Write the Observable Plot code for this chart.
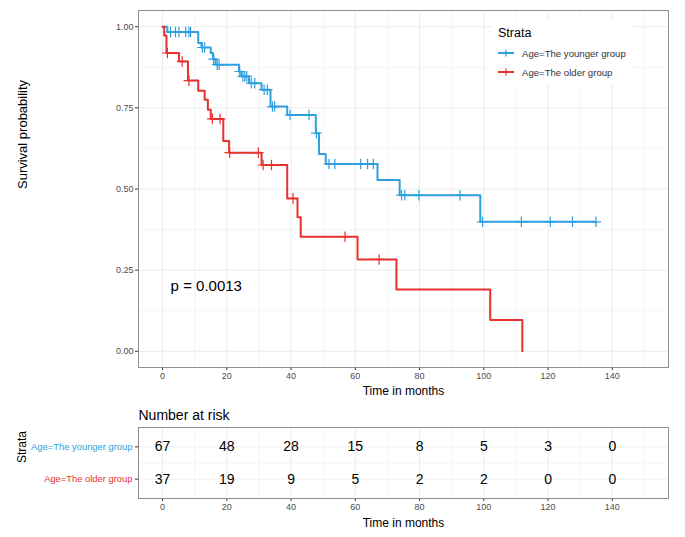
<!DOCTYPE html>
<html><head><meta charset="utf-8">
<script src="https://cdn.jsdelivr.net/npm/d3@7"></script>
<script src="https://cdn.jsdelivr.net/npm/@observablehq/plot@0.6"></script>
<style>
body{margin:0;background:#fff;font-family:"Liberation Sans",Arial,sans-serif;}
#wrap{position:relative;width:685px;height:537px;overflow:hidden;}
#main{position:absolute;left:0;top:0;}
#table{position:absolute;left:0;top:400px;}
#legend{position:absolute;left:492px;top:20px;width:139px;height:65px;background:#fff;}
#legend .ttl{position:absolute;left:6px;top:6px;font-size:12.5px;color:#000;}
#legend .item{position:absolute;left:6px;font-size:9.6px;color:#333;display:flex;align-items:center;height:14px;}
#legend .item svg{margin-right:8px;}
</style></head><body><div id="wrap"><div id="main"></div><div id="table"></div><div id="legend"></div></div>
<script>
const groups = ["Age=The younger group", "Age=The older group"];
const colors = ["#2E9FDF", "#E8312F"];

// Kaplan-Meier steps (time in months, survival after the step)
const youngTime = [0, 1.5, 11.1, 12.1, 15.0, 15.7, 16.5, 23.8, 24.5, 26.9, 30.8, 33.6, 38.8, 47.7, 48.7, 50.8, 66.9, 73.8, 98.9, 134.9];
const youngSurv = [1, 0.984, 0.950, 0.936, 0.919, 0.900, 0.883, 0.862, 0.847, 0.826, 0.806, 0.754, 0.728, 0.672, 0.608, 0.577, 0.528, 0.481, 0.399, 0.399];
const youngCensor = [2.5, 4.0, 5.1, 7.2, 8.2, 8.7, 12.4, 13.1, 15.9, 17.0, 17.6, 24.0, 25.0, 25.6, 26.2, 27.6, 28.7, 31.6, 32.6, 34.2, 34.9, 39.7, 45.6, 47.9, 51.8, 53.6, 61.7, 63.8, 65.6, 74.4, 75.4, 79.8, 92.6, 99.6, 111.7, 120.7, 127.6, 134.9];

const oldTime = [0, 0.5, 1.2, 5.1, 7.9, 11.1, 13.1, 14.1, 15.0, 18.9, 20.7, 30.8, 38.8, 42.0, 43.0, 60.7, 72.8, 102.0, 112.0];
const oldSurv = [1, 0.973, 0.919, 0.893, 0.834, 0.803, 0.775, 0.744, 0.716, 0.648, 0.612, 0.574, 0.471, 0.413, 0.353, 0.283, 0.190, 0.096, 0.0];
const oldCensor = [1.5, 6.1, 8.2, 15.5, 17.9, 20.9, 29.8, 31.3, 33.9, 40.6, 56.8, 67.4];

const xTicks = [0, 20, 40, 60, 80, 100, 120, 140];
const xMinor = [10, 30, 50, 70, 90, 110, 130, 150];
const yTicks = [0, 0.25, 0.5, 0.75, 1];
const yMinor = [0.125, 0.375, 0.625, 0.875];

const riskYoung = [67, 48, 28, 15, 8, 5, 3, 0];
const riskOld = [37, 19, 9, 5, 2, 2, 0, 0];

const pLabel = "p = 0.0013";
const xTitle = "Time in months";
const yTitle = "Survival probability";
const tableTitle = "Number at risk";
const legendTitle = "Strata";

const FONT = '"Liberation Sans", Arial, sans-serif';
const times = [youngTime, oldTime], survs = [youngSurv, oldSurv], cens = [youngCensor, oldCensor];

function survAt(ti, si, t) {
  let s = si[0];
  for (let k = 0; k < ti.length; k++) if (ti[k] <= t) s = si[k];
  return s;
}

const stepRows = [];
const censorRows = [];
groups.forEach((g, i) => {
  times[i].forEach((t, j) => stepRows.push({group: g, time: t, surv: survs[i][j]}));
  cens[i].forEach(t => censorRows.push({group: g, time: t, surv: survAt(times[i], survs[i], t)}));
});

const main = Plot.plot({
  width: 685, height: 400,
  marginLeft: 138, marginRight: 17, marginTop: 10, marginBottom: 33,
  x: {domain: [-7.5, 157.5]},
  y: {domain: [-0.05, 1.05]},
  color: {domain: groups, range: colors},
  style: {fontFamily: FONT, background: "transparent", overflow: "visible"},
  marks: [
    Plot.gridX(xMinor, {stroke: "#ebebeb", strokeOpacity: 1, strokeWidth: 0.5}),
    Plot.gridY(yMinor, {stroke: "#ebebeb", strokeOpacity: 1, strokeWidth: 0.5}),
    Plot.gridX(xTicks, {stroke: "#ebebeb", strokeOpacity: 1, strokeWidth: 1}),
    Plot.gridY(yTicks, {stroke: "#ebebeb", strokeOpacity: 1, strokeWidth: 1}),
    Plot.axisX(xTicks, {tickSize: 3, tickPadding: 2, fontSize: 9, fill: "#4d4d4d", stroke: "#333", label: null}),
    Plot.axisY(yTicks, {tickSize: 3, tickPadding: 2, fontSize: 9, fill: "#4d4d4d", stroke: "#333", tickFormat: d => d.toFixed(2), label: null}),
    Plot.line(stepRows, {x: "time", y: "surv", z: "group", stroke: "group", curve: "step-after", strokeWidth: 2}),
    Plot.dot(censorRows, {x: "time", y: "surv", stroke: "group", symbol: "plus", r: 3.5, strokeWidth: 1.2}),
    Plot.text([pLabel], {x: 2.5, y: 0.2, text: d => d, textAnchor: "start", fontSize: 15, fill: "#000"}),
    Plot.text([xTitle], {frameAnchor: "bottom", lineAnchor: "middle", dy: 24, text: d => d, fontSize: 12, fill: "#000"}),
    Plot.text([yTitle], {frameAnchor: "left", lineAnchor: "middle", dx: -116, rotate: -90, text: d => d, fontSize: 13, fill: "#000"}),
    Plot.frame({stroke: "#8f8f8f", strokeWidth: 1})
  ]
});
document.getElementById("main").appendChild(main);

// legend
const leg = document.getElementById("legend");
leg.innerHTML = `<div class="ttl">${legendTitle}</div>` + groups.map((g, i) =>
  `<div class="item" style="top:${26 + i * 19}px"><svg width="16" height="10"><line x1="0" y1="5" x2="16" y2="5" stroke="${colors[i]}" stroke-width="2"/><line x1="8" y1="1.5" x2="8" y2="8.5" stroke="${colors[i]}" stroke-width="1.2"/></svg>${g}</div>`
).join("");

// risk table
const riskRows = [];
[riskYoung, riskOld].forEach((arr, i) => arr.forEach((n, j) => riskRows.push({group: groups[i], row: 2 - i, time: xTicks[j], n})));

const table = Plot.plot({
  width: 685, height: 137,
  marginLeft: 138, marginRight: 17, marginTop: 27, marginBottom: 39,
  x: {domain: [-7.5, 157.5]},
  y: {domain: [0.4, 2.6]},
  color: {domain: groups, range: colors},
  style: {fontFamily: FONT, background: "transparent", overflow: "visible"},
  marks: [
    Plot.gridX(xMinor, {stroke: "#ebebeb", strokeOpacity: 1, strokeWidth: 0.5}),
    Plot.gridY([1.5], {stroke: "#ebebeb", strokeOpacity: 1, strokeWidth: 0.5}),
    Plot.gridX(xTicks, {stroke: "#ebebeb", strokeOpacity: 1, strokeWidth: 1}),
    Plot.gridY([1, 2], {stroke: "#f0f0f0", strokeOpacity: 1, strokeWidth: 1}),
    Plot.axisX(xTicks, {tickSize: 3, tickPadding: 2, fontSize: 9, fill: "#4d4d4d", stroke: "#333", label: null}),
    Plot.axisY([1, 2], {tickSize: 3, stroke: "#333", tickFormat: () => "", label: null}),
    Plot.text(groups, {y: (d, i) => 2 - i, frameAnchor: "left", dx: -6, textAnchor: "end", text: d => d, fill: d => d, fontSize: 9.4}),
    Plot.text(riskRows, {x: "time", y: "row", text: "n", fontSize: 14, fill: "#000"}),
    Plot.text([xTitle], {frameAnchor: "bottom", lineAnchor: "middle", dy: 25, text: d => d, fontSize: 12, fill: "#000"}),
    Plot.text([legendTitle], {frameAnchor: "left", lineAnchor: "middle", dx: -116, rotate: -90, text: d => d, fontSize: 12, fill: "#000"}),
    Plot.text([tableTitle], {frameAnchor: "top-left", lineAnchor: "middle", dy: -12, textAnchor: "start", text: d => d, fontSize: 14, fill: "#000"}),
    Plot.frame({stroke: "#8f8f8f", strokeWidth: 1})
  ]
});
document.getElementById("table").appendChild(table);
</script></body></html>
